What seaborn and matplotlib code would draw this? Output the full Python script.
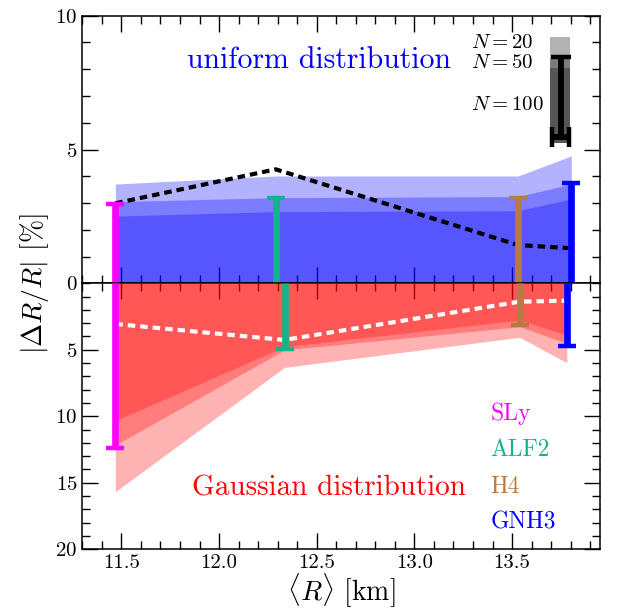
import matplotlib
matplotlib.use("Agg")
import matplotlib.pyplot as plt
import seaborn as sns
import numpy as np
from matplotlib.ticker import MultipleLocator

# equations of state
eos_names = ["SLy", "ALF2", "H4", "GNH3"]
eos_colors = ["#ff00ff", "#13b38c", "#b87a42", "#0000ff"]

# mean radius [km] for each EOS (uniform / Gaussian runs)
r_uniform = [11.469, 12.290, 13.530, 13.803]
r_gauss = [11.469, 12.335, 13.539, 13.780]

# |dR/R| [%] bands, uniform distribution (N = 100, 50, 20)
unif_n100 = [2.51, 2.68, 2.71, 3.15]
unif_n50 = [3.05, 3.20, 3.24, 3.71]
unif_n20 = [3.71, 4.01, 4.01, 4.76]
unif_mean = [2.99, 4.26, 1.43, 1.31]
unif_err = [2.95, 3.18, 3.18, 3.76]

# |dR/R| [%] bands, Gaussian distribution (N = 100, 50, 20)
gauss_n100 = [10.33, 4.77, 2.76, 3.89]
gauss_n50 = [12.16, 5.01, 3.26, 4.51]
gauss_n20 = [15.67, 6.32, 4.06, 5.97]
gauss_mean = [3.06, 4.26, 1.38, 1.31]
gauss_err = [12.41, 4.94, 3.14, 4.69]

# little key in the upper right corner
key_x = [13.692, 13.797]
key_base = 5.25
key_tops = [9.22, 8.4, 8.03]
key_labels = ["$N=20$", "$N=50$", "$N=100$"]
key_label_y = [8.99, 8.23, 6.66]
key_bar_x, key_bar_y, key_bar_len = 13.748, 5.48, 2.97

sns.set_style("ticks")
plt.rcParams["font.family"] = "serif"
plt.rcParams["font.serif"] = ["cmr10"]
plt.rcParams["mathtext.fontset"] = "cm"
plt.rcParams["axes.formatter.use_mathtext"] = True
plt.rcParams["axes.linewidth"] = 1.1
plt.rcParams["axes.edgecolor"] = "black"
plt.rcParams["xtick.color"] = "black"
plt.rcParams["ytick.color"] = "black"
plt.rcParams["text.color"] = "black"

fig = plt.figure(figsize=(6.19, 6.12), dpi=100)
ax_top = fig.add_axes([0.1330, 0.5371, 0.8363, 0.4372])
ax_bot = fig.add_axes([0.1330, 0.1025, 0.8363, 0.4346], sharex=ax_top)

dash = (0, (1.8, 1.2))

# uniform distribution panel
for top in [unif_n20, unif_n50, unif_n100]:
    ax_top.fill_between(r_uniform, 0, top, color="blue", alpha=0.3, lw=0)
sns.lineplot(x=r_uniform, y=unif_mean, ax=ax_top, color="k", lw=3,
             linestyle=dash, sort=False, zorder=3)
for x, e, c in zip(r_uniform, unif_err, eos_colors):
    ax_top.errorbar([x], [0], yerr=[[0], [e]], fmt="none", ecolor=c,
                    elinewidth=4.8, capsize=0, zorder=4)
    ax_top.plot([x], [e], marker="_", ms=13, mew=3.2, color=c, zorder=4)

# key
for top in key_tops:
    ax_top.fill_between(key_x, key_base, top, color="k", alpha=0.3, lw=0)
ax_top.errorbar([key_bar_x], [key_bar_y], xerr=0.045,
                yerr=[[0], [key_bar_len]], fmt="none", ecolor="k",
                elinewidth=4.2, capsize=7, capthick=3.2, zorder=5)
for lab, y in zip(key_labels, key_label_y):
    ax_top.text(13.292, y, lab, fontsize=15, va="center", ha="left")

ax_top.text(12.512, 8.34, "uniform distribution", color="blue",
            fontsize=21.5, ha="center", va="center")

# Gaussian distribution panel
for low in [gauss_n20, gauss_n50, gauss_n100]:
    ax_bot.fill_between(r_gauss, 0, low, color="red", alpha=0.3, lw=0)
sns.lineplot(x=r_gauss, y=gauss_mean, ax=ax_bot, color="white", lw=3,
             linestyle=dash, sort=False, zorder=3)
for x, e, c in zip(r_gauss, gauss_err, eos_colors):
    ax_bot.errorbar([x], [0], yerr=[[0], [e]], fmt="none", ecolor=c,
                    elinewidth=4.8, capsize=0, zorder=4)
    ax_bot.plot([x], [e], marker="_", ms=13, mew=3.2, color=c, zorder=4)

ax_bot.text(12.56, 15.4, "Gaussian distribution", color="red",
            fontsize=21, ha="center", va="center")
for name, c, y in zip(eos_names, eos_colors, [9.8, 12.5, 15.3, 18.0]):
    ax_bot.text(13.39, y, name, color=c, fontsize=17, ha="left", va="center")

# axes
ax_top.set_xlim(11.3, 13.95)
ax_top.set_ylim(0, 10)
ax_bot.set_ylim(20, 0)
ax_top.set_yticks([0, 5, 10])
ax_bot.set_yticks([5, 10, 15, 20])
for ax in (ax_top, ax_bot):
    ax.xaxis.set_major_locator(MultipleLocator(0.5))
    ax.xaxis.set_minor_locator(MultipleLocator(0.1))
    ax.yaxis.set_minor_locator(MultipleLocator(1))
    ax.tick_params(which="both", direction="in", top=True, right=True,
                   width=1, labelsize=15)
    ax.tick_params(which="major", length=11.5)
    ax.tick_params(which="minor", length=6)
    ax.set_xlabel("")
    ax.set_ylabel("")
ax_top.tick_params(labelbottom=False)
ax_bot.xaxis.set_major_formatter(plt.FuncFormatter(lambda v, p: f"{v:.1f}"))

fig.text(0.056, 0.537, r"$|\Delta R/R|$ [%]", rotation=90, fontsize=20,
         ha="center", va="center")
fig.text(0.551, 0.034, r"$\langle R\rangle$ [km]", fontsize=20,
         ha="center", va="center")

fig.savefig("out.png", dpi=100)
